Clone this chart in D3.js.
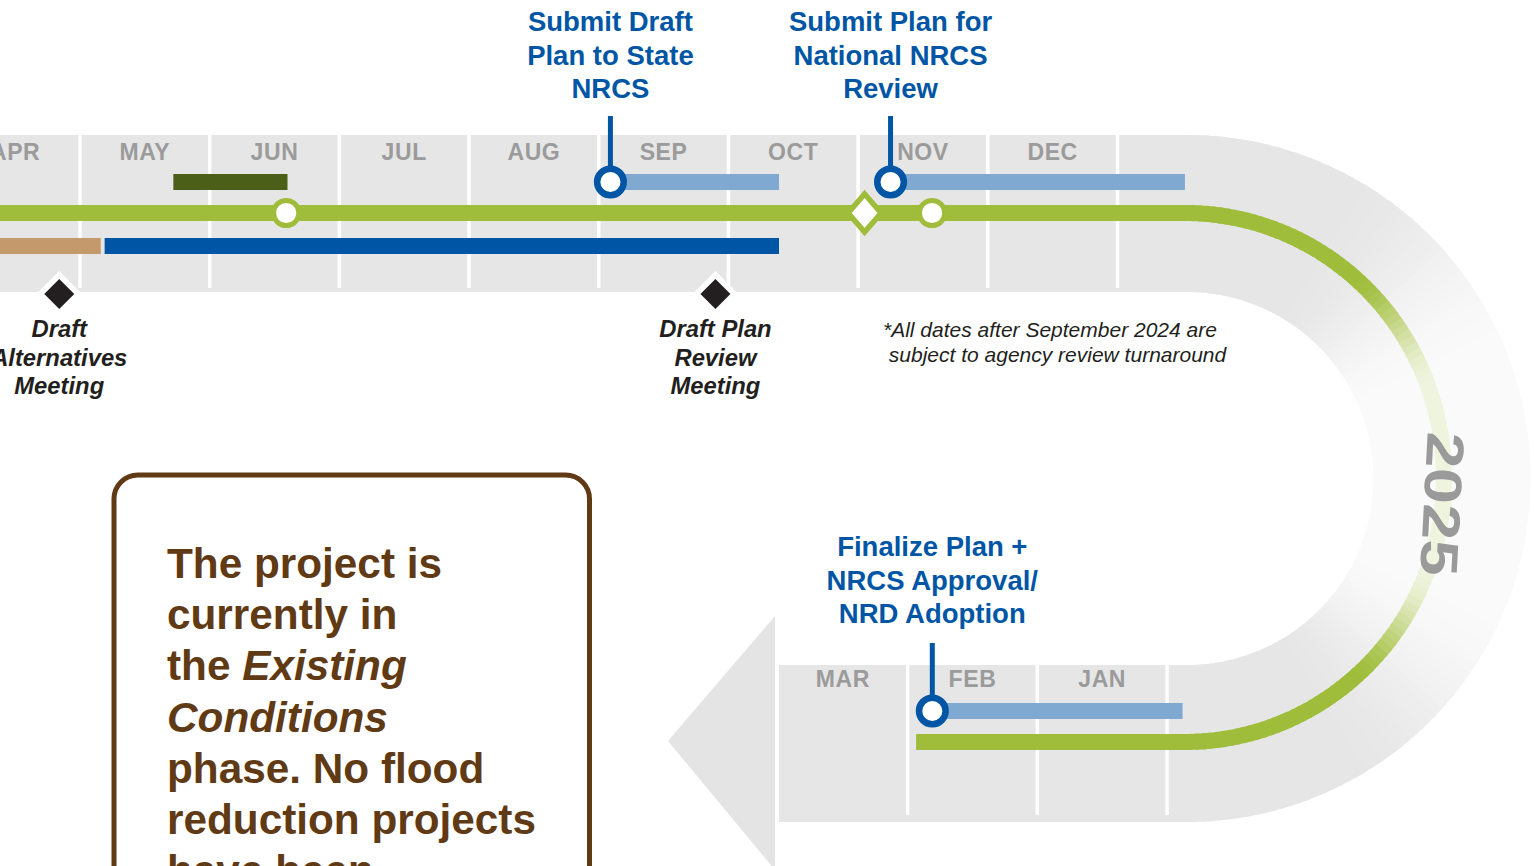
<!DOCTYPE html>
<html>
<head>
<meta charset="utf-8">
<script src="https://cdn.jsdelivr.net/npm/d3@7"></script>
<style>
  html, body { margin: 0; padding: 0; background: #fff; overflow: hidden; }
  svg { display: block; font-family: "Liberation Sans", Arial, sans-serif; }
</style>
</head>
<body>
<div id="chart"></div>
<script>
// all times are "months since Jan 2024" (3 = start of April 2024)

// month cells on the upper (2024) run and the lower (2025) run
var topMonths = ["APR", "MAY", "JUN", "JUL", "AUG", "SEP", "OCT", "NOV", "DEC"];
var topMonthStart = [3, 4, 5, 6, 7, 8, 9, 10, 11];
var bottomMonths = ["JAN", "FEB", "MAR"];
var bottomMonthStart = [12, 13, 14];

// task bars
var barKind  = ["tan", "blue", "darkgreen", "review", "review", "review"];
var barStart = [1.5, 4.19, 4.72, 8.09, 10.25, 13.81];
var barEnd   = [4.16, 9.39, 5.60, 9.39, 12.52, 11.88];
var barLane  = ["below", "below", "above", "above", "above", "above"];
var barRow   = ["2024", "2024", "2024", "2024", "2024", "2025"];

// milestones
var mileKind  = ["meeting", "meeting", "submit", "submit", "submit", "circle", "diamond", "circle"];
var mileMonth = [3.84, 8.90, 8.09, 10.25, 13.81, 5.59, 10.05, 10.57];
var mileRow   = ["2024", "2024", "2024", "2024", "2025", "2024", "2024", "2024"];
var mileLabel = [
  ["Draft", "Alternatives", "Meeting"],
  ["Draft Plan", "Review", "Meeting"],
  ["Submit Draft", "Plan to State", "NRCS"],
  ["Submit Plan for", "National NRCS", "Review"],
  ["Finalize Plan +", "NRCS Approval/", "NRD Adoption"],
  [], [], []
];

// main progress track
var trackStart = 1.5, trackEnd = 13.935;

var yearLabel = "2025";
var footnote = ["*All dates after September 2024 are", " subject to agency review turnaround"];

var W = 1534, H = 866;
var svg = d3.select("#chart").append("svg").attr("width", W).attr("height", H);

var topX = d3.scaleLinear().domain([3, 12]).range([-49.7, 1117.5]);
var botX = d3.scaleLinear().domain([12, 15]).range([1167, 778]);
function xOf(t, row) { return row == "2024" ? topX(t) : botX(t); }

var band = {top: 135, bottom: 292, top2: 665, bottom2: 822, left2: 779, cx: 1187, cy: 478.5, R: 343.5, r: 186.5};
var trackY = {"2024": 213, "2025": 742};
var labelShift = {"2024": -115, "2025": -119};
var stemTop = {"2024": -97, "2025": -99};
var lane = d3.scaleOrdinal().domain(["above", "track", "below"]).range([-31, 0, 33]);
var gc = {cx: 1185, cy: 477.5, rx: 259, ry: 264.5};

var barColor = {tan: "#c49a6c", blue: "#0056a5", darkgreen: "#4c5f18", review: "#80a9d2"};
var green = "#9fbd3a", navy = "#0056a5", monthGray = "#9b9b9b", ink = "#231f20", brown = "#5f3a14";

// fade of the bend (0 = solid, 1 = washed out), by angle from the top
function fadeAmt(deg, start, full) {
  var d = Math.abs(deg - 90);
  var t = Math.max(0, Math.min(1, (start - d) / (start - full)));
  return t * t * (3 - 2 * t);
}
var grayCol = d3.interpolateRgb("#e6e6e6", "#fafafa");
var greenCol = d3.interpolateRgb(green, "#eff4df");

// ---- gray band ----
var bg = svg.append("g");
bg.append("rect").attr("x", -10).attr("y", band.top)
  .attr("width", band.cx + 10.5).attr("height", band.bottom - band.top).attr("fill", "#e6e6e6");
bg.append("rect").attr("x", band.left2).attr("y", band.top2)
  .attr("width", band.cx - band.left2 + 0.5).attr("height", band.bottom2 - band.top2).attr("fill", "#e6e6e6");

var steps = d3.range(0, 180, 1.5);
var arc = d3.arc().innerRadius(band.r).outerRadius(band.R);
bg.append("g").attr("transform", "translate(" + band.cx + "," + band.cy + ")")
  .selectAll("path").data(steps).enter().append("path")
  .attr("d", function(a) { return arc({startAngle: a * Math.PI / 180, endAngle: Math.min(180, a + 2.2) * Math.PI / 180}); })
  .attr("fill", function(a) { return grayCol(fadeAmt(a + 0.75, 62, 22)); });

// arrow head on the lower run
bg.append("path").attr("d", "M668,741L775,616L775,870Z").attr("fill", "#e4e4e4");

// month dividers
var topDiv = topMonthStart.slice(1).concat([12]);
bg.selectAll(".divTop").data(topDiv).enter().append("line")
  .attr("x1", function(d) { return topX(d); }).attr("x2", function(d) { return topX(d); })
  .attr("y1", band.top).attr("y2", band.bottom - 4)
  .attr("stroke", "#fff").attr("stroke-width", 3.5);
var botDiv = bottomMonthStart.slice(1).concat([12]);
bg.selectAll(".divBot").data(botDiv).enter().append("line")
  .attr("x1", function(d) { return botX(d); }).attr("x2", function(d) { return botX(d); })
  .attr("y1", band.top2).attr("y2", band.bottom2 - 7)
  .attr("stroke", "#fff").attr("stroke-width", 3.5);

// month labels
bg.selectAll(".mTop").data(topMonths).enter().append("text")
  .attr("x", function(d, i) { return topX(topMonthStart[i] + 0.5); })
  .attr("y", 160).attr("text-anchor", "middle").attr("letter-spacing", 0.6)
  .attr("font-size", 23).attr("font-weight", "bold").attr("fill", monthGray)
  .text(function(d) { return d; });
bg.selectAll(".mBot").data(bottomMonths).enter().append("text")
  .attr("x", function(d, i) { return botX(bottomMonthStart[i] + 0.5); })
  .attr("y", 687).attr("text-anchor", "middle").attr("letter-spacing", 0.6)
  .attr("font-size", 23).attr("font-weight", "bold").attr("fill", monthGray)
  .text(function(d) { return d; });

// ---- bars ----
var bars = barKind.map(function(k, i) {
  return {kind: k, s: barStart[i], e: barEnd[i], lane: barLane[i], row: barRow[i]};
});
svg.append("g").selectAll("rect").data(bars).enter().append("rect")
  .attr("x", function(d) { return Math.min(xOf(d.s, d.row), xOf(d.e, d.row)); })
  .attr("width", function(d) { return Math.abs(xOf(d.e, d.row) - xOf(d.s, d.row)); })
  .attr("y", function(d) { return trackY[d.row] + lane(d.lane) - 8; })
  .attr("height", 16)
  .attr("fill", function(d) { return barColor[d.kind]; });

// ---- green track ----
var tg = svg.append("g");
var line = d3.line();
tg.append("path")
  .attr("d", line([[xOf(trackStart, "2024"), trackY["2024"]], [gc.cx + 0.5, trackY["2024"]]]))
  .attr("stroke", green).attr("stroke-width", 16).attr("fill", "none");
tg.append("path")
  .attr("d", line([[gc.cx + 0.5, trackY["2025"]], [xOf(trackEnd, "2025"), trackY["2025"]]]))
  .attr("stroke", green).attr("stroke-width", 16).attr("fill", "none");
function ell(a) {
  var r = a * Math.PI / 180;
  return [gc.cx + gc.rx * Math.sin(r), gc.cy - gc.ry * Math.cos(r)];
}
tg.selectAll(".seg").data(steps).enter().append("path")
  .attr("d", function(a) { var b = Math.min(180, a + 2.2); return line([ell(a), ell((a + b) / 2), ell(b)]); })
  .attr("fill", "none").attr("stroke-width", 16)
  .attr("stroke", function(a) { return greenCol(fadeAmt(a + 0.75, 50, 20)); });

// year on the bend
svg.append("g").attr("transform", "translate(1443,504) rotate(93)")
  .append("text").attr("transform", "scale(1.22,1)")
  .attr("text-anchor", "middle").attr("dy", "0.36em")
  .attr("font-size", 53).attr("font-weight", "bold").attr("fill", "#9a9a9a")
  .text(yearLabel);

// ---- milestones ----
var miles = mileKind.map(function(k, i) {
  var x = xOf(mileMonth[i], mileRow[i]);
  return {kind: k, x: x, y: trackY[mileRow[i]], row: mileRow[i], label: mileLabel[i]};
});
var mg = svg.append("g");

miles.forEach(function(d) {
  if (d.kind == "submit") {
    var cy = d.y + lane("above");
    mg.append("line").attr("x1", d.x).attr("x2", d.x)
      .attr("y1", d.y + stemTop[d.row]).attr("y2", cy)
      .attr("stroke", navy).attr("stroke-width", 5);
    mg.append("circle").attr("cx", d.x).attr("cy", cy).attr("r", 13.3)
      .attr("fill", "#fff").attr("stroke", navy).attr("stroke-width", 6.5);
    var t = mg.append("text").attr("text-anchor", "middle")
      .attr("font-size", 27.5).attr("font-weight", "bold").attr("fill", navy);
    d.label.forEach(function(s, j) {
      t.append("tspan").attr("x", d.x)
        .attr("y", d.y + labelShift[d.row] - (d.label.length - 1 - j) * 33.3).text(s);
    });
  } else if (d.kind == "meeting") {
    var my = d.y + 81;
    mg.append("path").attr("d", "M" + d.x + "," + (my - 23) + "l23,23l-23,23l-23,-23z").attr("fill", "#fff");
    mg.append("path").attr("d", "M" + d.x + "," + (my - 15) + "l15,15l-15,15l-15,-15z").attr("fill", ink);
    var t2 = mg.append("text").attr("text-anchor", "middle")
      .attr("font-size", 23.8).attr("font-weight", "bold").attr("font-style", "italic").attr("fill", ink);
    d.label.forEach(function(s, j) {
      t2.append("tspan").attr("x", d.x).attr("y", d.y + 124 + j * 28.5).text(s);
    });
  } else if (d.kind == "circle") {
    mg.append("circle").attr("cx", d.x).attr("cy", d.y).attr("r", 12.6)
      .attr("fill", "#fff").attr("stroke", green).attr("stroke-width", 5);
  } else if (d.kind == "diamond") {
    mg.append("path").attr("d", "M" + d.x + "," + (d.y - 19) + "l16.5,19l-16.5,19l-16.5,-19z")
      .attr("fill", "#fff").attr("stroke", green).attr("stroke-width", 5.5).attr("stroke-linejoin", "miter");
  }
});

// footnote
var fn = svg.append("text").attr("font-size", 21).attr("font-style", "italic").attr("fill", ink);
fn.append("tspan").attr("x", 883).attr("y", 337).text(footnote[0]);
fn.append("tspan").attr("x", 883).attr("y", 362).style("white-space", "pre").text(footnote[1]);

// ---- status box ----
var box = svg.append("g");
box.append("rect").attr("x", 114).attr("y", 475).attr("width", 475.5).attr("height", 520)
  .attr("rx", 24).attr("fill", "#fff").attr("stroke", brown).attr("stroke-width", 5);
var boxLines = [
  [["The project is", false]],
  [["currently in", false]],
  [["the ", false], ["Existing", true]],
  [["Conditions", true]],
  [["phase. No flood", false]],
  [["reduction projects", false]],
  [["have been", false]]
];
var bt = box.append("text").attr("font-size", 42.3).attr("font-weight", "bold").attr("fill", brown);
boxLines.forEach(function(parts, i) {
  parts.forEach(function(p, j) {
    var ts = bt.append("tspan").text(p[0]).style("white-space", "pre");
    if (j == 0) ts.attr("x", 167).attr("y", 578 + i * 51.2);
    if (p[1]) ts.attr("font-style", "italic");
  });
});
</script>
</body>
</html>
